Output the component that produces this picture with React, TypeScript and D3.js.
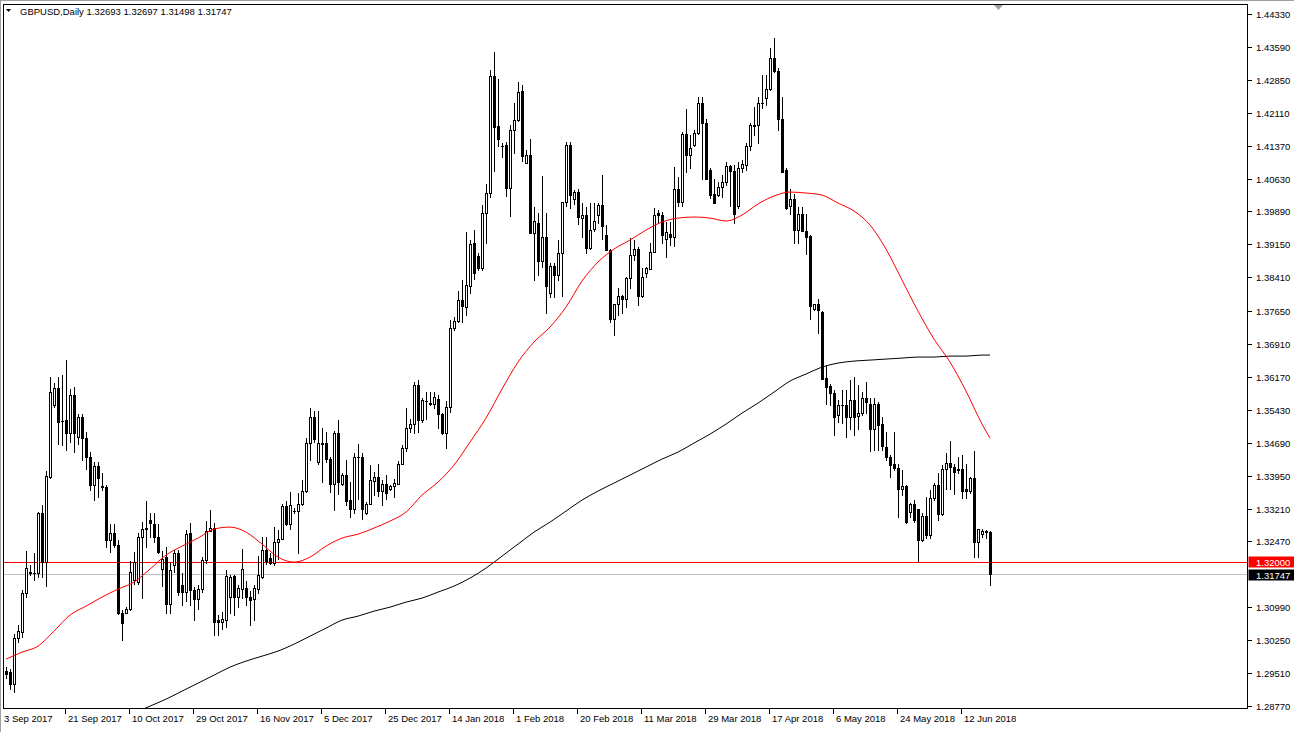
import React from "react";
import * as d3 from "d3";

// ---- Data (GBPUSD daily) ----
const openP = [
  1.2955, 1.2954, 1.2927, 1.3031, 1.3044, 1.3130, 1.3177, 1.3177, 1.3176, 1.3312,
  1.3200, 1.3392, 1.3553, 1.3593, 1.3518, 1.3520, 1.3490, 1.3576, 1.3482, 1.3526,
  1.3480, 1.3437, 1.3374, 1.3416, 1.3371, 1.3370, 1.3251, 1.3265, 1.3240, 1.3087,
  1.3087, 1.3096, 1.3160, 1.3156, 1.3257, 1.3274, 1.3296, 1.3286, 1.3256, 1.3186,
  1.3211, 1.3107, 1.3195, 1.3220, 1.3150, 1.3134, 1.3265, 1.3137, 1.3118, 1.3139,
  1.3205, 1.3270, 1.3278, 1.3070, 1.3066, 1.3070, 1.3122, 1.3169, 1.3122, 1.3141,
  1.3143, 1.3121, 1.3117, 1.3141, 1.3167, 1.3228, 1.3209, 1.3198, 1.3246, 1.3253,
  1.3326, 1.3287, 1.3316, 1.3316, 1.3332, 1.3361, 1.3468, 1.3526, 1.3426, 1.3465,
  1.3469, 1.3432, 1.3377, 1.3490, 1.3377, 1.3397, 1.3340, 1.3321, 1.3436, 1.3436,
  1.3310, 1.3332, 1.3383, 1.3391, 1.3361, 1.3377, 1.3366, 1.3371, 1.3376, 1.3422,
  1.3458, 1.3501, 1.3512, 1.3598, 1.3520, 1.3563, 1.3558, 1.3557, 1.3568, 1.3533,
  1.3490, 1.3550, 1.3728, 1.3742, 1.3791, 1.3775, 1.3821, 1.3918, 1.3889, 1.3862,
  1.3985, 1.4030, 1.4294, 1.4181, 1.4137, 1.4138, 1.4041, 1.4172, 1.4195, 1.4260,
  1.4097, 1.4117, 1.3941, 1.3964, 1.3878, 1.3932, 1.3806, 1.3866, 1.3847, 1.3895,
  1.4011, 1.4138, 1.4016, 1.4032, 1.3975, 1.3982, 1.3906, 1.3949, 1.3982, 1.4003,
  1.3937, 1.3902, 1.3748, 1.3781, 1.3799, 1.3793, 1.3840, 1.3892, 1.3904, 1.3799,
  1.3850, 1.3859, 1.3898, 1.3986, 1.3982, 1.3928, 1.3938, 1.3931, 1.4039, 1.4011,
  1.4163, 1.4117, 1.4138, 1.4165, 1.4234, 1.4189, 1.4082, 1.4029, 1.4026, 1.4043,
  1.4056, 1.4091, 1.4080, 1.4002, 1.4086, 1.4093, 1.4136, 1.4181, 1.4183, 1.4234,
  1.4243, 1.4264, 1.4335, 1.4305, 1.4197, 1.4082, 1.4002, 1.4018, 1.3948, 1.3983,
  1.3945, 1.3933, 1.3769, 1.3780, 1.3762, 1.3615, 1.3596, 1.3580, 1.3531, 1.3554,
  1.3554, 1.3526, 1.3565, 1.3529, 1.3536, 1.3569, 1.3557, 1.3500, 1.3557, 1.3511,
  1.3460, 1.3437, 1.3421, 1.3413, 1.3366, 1.3371, 1.3314, 1.3332, 1.3319, 1.3251,
  1.3304, 1.3261, 1.3344, 1.3374, 1.3308, 1.3409, 1.3424, 1.3415, 1.3410, 1.3410,
  1.3364, 1.3361, 1.3389, 1.3246, 1.3263, 1.3270, 1.32693,
];
const highP = [
  1.2965, 1.2961, 1.3040, 1.3059, 1.3137, 1.3225, 1.3194, 1.3221, 1.3314, 1.3329,
  1.3405, 1.3617, 1.3604, 1.3617, 1.3621, 1.3656, 1.3589, 1.3595, 1.3533, 1.3533,
  1.3494, 1.3449, 1.3426, 1.3426, 1.3400, 1.3374, 1.3287, 1.3287, 1.3250, 1.3092,
  1.3099, 1.3203, 1.3224, 1.3266, 1.3291, 1.3338, 1.3310, 1.3310, 1.3287, 1.3225,
  1.3235, 1.3198, 1.3228, 1.3228, 1.3175, 1.3273, 1.3288, 1.3145, 1.3148, 1.3213,
  1.3292, 1.3318, 1.3288, 1.3081, 1.3088, 1.3183, 1.3171, 1.3171, 1.3150, 1.3230,
  1.3158, 1.3136, 1.3150, 1.3215, 1.3258, 1.3258, 1.3220, 1.3280, 1.3273, 1.3332,
  1.3338, 1.3359, 1.3323, 1.3355, 1.3385, 1.3479, 1.3548, 1.3540, 1.3540, 1.3501,
  1.3494, 1.3437, 1.3496, 1.3520, 1.3402, 1.3431, 1.3381, 1.3447, 1.3466, 1.3445,
  1.3336, 1.3418, 1.3403, 1.3421, 1.3386, 1.3396, 1.3373, 1.3388, 1.3429, 1.3464,
  1.3546, 1.3523, 1.3606, 1.3611, 1.3569, 1.3583, 1.3583, 1.3583, 1.3576, 1.3536,
  1.3563, 1.3745, 1.3752, 1.3811, 1.3836, 1.3942, 1.3925, 1.3947, 1.3895, 1.4003,
  1.4051, 1.4307, 1.4348, 1.4286, 1.4144, 1.4146, 1.4183, 1.4234, 1.4279, 1.4273,
  1.4127, 1.4151, 1.3998, 1.3986, 1.4068, 1.3986, 1.3874, 1.3874, 1.3925, 1.4011,
  1.4146, 1.4146, 1.4037, 1.4039, 1.4009, 1.4000, 1.4009, 1.4007, 1.4009, 1.4071,
  1.3958, 1.3905, 1.3782, 1.3816, 1.3801, 1.3842, 1.3930, 1.3925, 1.3910, 1.3861,
  1.3865, 1.3917, 1.3996, 1.3992, 1.3988, 1.3966, 1.3966, 1.4090, 1.4067, 1.4168,
  1.4219, 1.4161, 1.4172, 1.4247, 1.4247, 1.4198, 1.4086, 1.4062, 1.4056, 1.4071,
  1.4101, 1.4093, 1.4093, 1.4101, 1.4105, 1.4142, 1.4187, 1.4224, 1.4247, 1.4296,
  1.4296, 1.4356, 1.4378, 1.4311, 1.4247, 1.4086, 1.4039, 1.4029, 1.3999, 1.3999,
  1.3984, 1.3936, 1.3782, 1.3793, 1.3765, 1.3643, 1.3602, 1.3587, 1.3565, 1.3587,
  1.3587, 1.3610, 1.3617, 1.3599, 1.3584, 1.3606, 1.3569, 1.3569, 1.3561, 1.3527,
  1.3494, 1.3441, 1.3494, 1.3422, 1.3407, 1.3374, 1.3334, 1.3340, 1.3321, 1.3310,
  1.3347, 1.3362, 1.3379, 1.3400, 1.3419, 1.3445, 1.3473, 1.3422, 1.3437, 1.3441,
  1.3422, 1.3392, 1.3450, 1.3276, 1.3274, 1.3272, 1.32697,
];
const lowP = [
  1.2939, 1.2916, 1.2909, 1.3021, 1.3033, 1.3122, 1.3171, 1.3160, 1.3167, 1.3167,
  1.3147, 1.3389, 1.3550, 1.3467, 1.3464, 1.3452, 1.3471, 1.3449, 1.3467, 1.3431,
  1.3411, 1.3362, 1.3341, 1.3347, 1.3362, 1.3235, 1.3224, 1.3235, 1.3083, 1.3026,
  1.3085, 1.3092, 1.3152, 1.3152, 1.3119, 1.3235, 1.3257, 1.3246, 1.3220, 1.3147,
  1.3085, 1.3085, 1.3178, 1.3126, 1.3103, 1.3112, 1.3103, 1.3070, 1.3096, 1.3133,
  1.3198, 1.3270, 1.3037, 1.3037, 1.3051, 1.3055, 1.3085, 1.3081, 1.3100, 1.3119,
  1.3105, 1.3060, 1.3070, 1.3130, 1.3164, 1.3196, 1.3196, 1.3194, 1.3207, 1.3253,
  1.3284, 1.3276, 1.3311, 1.3220, 1.3329, 1.3359, 1.3430, 1.3471, 1.3422, 1.3381,
  1.3426, 1.3359, 1.3317, 1.3353, 1.3373, 1.3328, 1.3302, 1.3310, 1.3343, 1.3298,
  1.3308, 1.3331, 1.3351, 1.3349, 1.3330, 1.3343, 1.3362, 1.3347, 1.3376, 1.3422,
  1.3451, 1.3493, 1.3491, 1.3493, 1.3516, 1.3523, 1.3553, 1.3546, 1.3503, 1.3488,
  1.3458, 1.3537, 1.3722, 1.3741, 1.3741, 1.3756, 1.3805, 1.3838, 1.3857, 1.3857,
  1.3917, 1.4021, 1.4081, 1.4136, 1.4112, 1.4024, 1.3979, 1.4121, 1.4193, 1.4103,
  1.4097, 1.3940, 1.3836, 1.3846, 1.3865, 1.3761, 1.3796, 1.3796, 1.3836, 1.3799,
  1.4001, 1.3996, 1.4006, 1.3961, 1.3931, 1.3895, 1.3904, 1.3945, 1.3962, 1.3928,
  1.3902, 1.3741, 1.3712, 1.3756, 1.3760, 1.3775, 1.3816, 1.3880, 1.3778, 1.3797,
  1.3842, 1.3859, 1.3898, 1.3966, 1.3917, 1.3887, 1.3913, 1.3912, 1.4002, 1.4002,
  1.4077, 1.4087, 1.4137, 1.4163, 1.4062, 1.4062, 1.4020, 1.4007, 1.4024, 1.4022,
  1.4048, 1.4002, 1.3964, 1.3996, 1.4077, 1.4082, 1.4127, 1.4161, 1.4144, 1.4222,
  1.4228, 1.4262, 1.4303, 1.4172, 1.4078, 1.3994, 1.3984, 1.3917, 1.3917, 1.3945,
  1.3894, 1.3747, 1.3767, 1.3715, 1.3613, 1.3555, 1.3554, 1.3486, 1.3516, 1.3514,
  1.3482, 1.3499, 1.3486, 1.3499, 1.3531, 1.3536, 1.3451, 1.3452, 1.3452, 1.3452,
  1.3430, 1.3391, 1.3407, 1.3302, 1.3351, 1.3289, 1.3302, 1.3291, 1.3203, 1.3248,
  1.3254, 1.3254, 1.3341, 1.3295, 1.3306, 1.3366, 1.3366, 1.3353, 1.3400, 1.3344,
  1.3344, 1.3355, 1.3211, 1.3211, 1.3257, 1.3255, 1.31498,
];
const closeP = [
  1.2950, 1.2927, 1.3031, 1.3046, 1.3132, 1.3188, 1.3178, 1.3176, 1.3310, 1.3200,
  1.3395, 1.3582, 1.3593, 1.3516, 1.3517, 1.3490, 1.3576, 1.3490, 1.3526, 1.3480,
  1.3437, 1.3374, 1.3416, 1.3390, 1.3370, 1.3250, 1.3265, 1.3240, 1.3085, 1.3064,
  1.3096, 1.3179, 1.3201, 1.3256, 1.3274, 1.3278, 1.3289, 1.3256, 1.3224, 1.3208,
  1.3107, 1.3182, 1.3220, 1.3134, 1.3134, 1.3263, 1.3137, 1.3118, 1.3141, 1.3205,
  1.3270, 1.3278, 1.3066, 1.3066, 1.3072, 1.3169, 1.3167, 1.3122, 1.3143, 1.3186,
  1.3121, 1.3115, 1.3143, 1.3171, 1.3228, 1.3203, 1.3198, 1.3246, 1.3253, 1.3326,
  1.3287, 1.3330, 1.3316, 1.3332, 1.3361, 1.3468, 1.3526, 1.3477, 1.3469, 1.3469,
  1.3432, 1.3377, 1.3490, 1.3381, 1.3397, 1.3338, 1.3321, 1.3437, 1.3436, 1.3319,
  1.3332, 1.3385, 1.3391, 1.3361, 1.3377, 1.3357, 1.3371, 1.3379, 1.3422, 1.3458,
  1.3501, 1.3512, 1.3598, 1.3520, 1.3565, 1.3563, 1.3557, 1.3571, 1.3533, 1.3490,
  1.3550, 1.3728, 1.3742, 1.3790, 1.3776, 1.3823, 1.3915, 1.3851, 1.3862, 1.3985,
  1.4030, 1.4294, 1.4180, 1.4153, 1.4137, 1.4041, 1.4172, 1.4195, 1.4258, 1.4114,
  1.4117, 1.3941, 1.3967, 1.3878, 1.3932, 1.3822, 1.3866, 1.3847, 1.3895, 1.4011,
  1.4138, 1.4027, 1.4032, 1.3977, 1.3982, 1.3906, 1.3947, 1.3967, 1.4003, 1.3956,
  1.3902, 1.3748, 1.3782, 1.3799, 1.3793, 1.3840, 1.3892, 1.3904, 1.3799, 1.3842,
  1.3861, 1.3898, 1.3982, 1.3982, 1.3935, 1.3943, 1.3931, 1.4039, 1.4011, 1.4163,
  1.4117, 1.4131, 1.4165, 1.4234, 1.4189, 1.4063, 1.4027, 1.4008, 1.4043, 1.4056,
  1.4091, 1.4080, 1.3983, 1.4087, 1.4096, 1.4136, 1.4183, 1.4184, 1.4234, 1.4234,
  1.4264, 1.4335, 1.4305, 1.4197, 1.4078, 1.3997, 1.4018, 1.3948, 1.3983, 1.3945,
  1.3932, 1.3777, 1.3780, 1.3767, 1.3613, 1.3595, 1.3580, 1.3526, 1.3554, 1.3553,
  1.3526, 1.3565, 1.3527, 1.3536, 1.3569, 1.3561, 1.3500, 1.3557, 1.3509, 1.3461,
  1.3436, 1.3420, 1.3413, 1.3366, 1.3371, 1.3291, 1.3332, 1.3295, 1.3251, 1.3304,
  1.3261, 1.3344, 1.3374, 1.3308, 1.3409, 1.3424, 1.3415, 1.3404, 1.3407, 1.3361,
  1.3361, 1.3389, 1.3246, 1.3274, 1.3270, 1.3268, 1.31747,
];

// Red moving average, one value every 4 bars (bars 0..244) plus the last bar (246)
const redMA = [
  1.29824, 1.29981, 1.30116, 1.30454, 1.30814, 1.31016, 1.31218, 1.31398, 1.31556, 1.31848,
  1.32163, 1.32365, 1.32545, 1.32748, 1.32793, 1.3268, 1.3241, 1.32118, 1.32005, 1.32118,
  1.32365, 1.32545, 1.32635, 1.3277, 1.32928, 1.3313, 1.33512, 1.33805, 1.34187, 1.34704,
  1.35244, 1.35896, 1.36503, 1.36953, 1.37291, 1.3774, 1.38325, 1.38752, 1.39045, 1.39247,
  1.39472, 1.39652, 1.39742, 1.39765, 1.39742, 1.39675, 1.3981, 1.40057, 1.40237, 1.40327,
  1.40304, 1.40259, 1.40079, 1.399, 1.39585, 1.39045, 1.38348, 1.3765, 1.37021, 1.36503,
  1.35851, 1.35109, 1.34794,
];
// Black moving average, one value every 4 bars from bar 32 to 244, plus the last bar (246)
const blackMA = [
  1.2861, 1.28767, 1.28924, 1.29104, 1.29284, 1.29464, 1.29644, 1.29779, 1.29891, 1.30004,
  1.30161, 1.30341, 1.30521, 1.30701, 1.30791, 1.30903, 1.30993, 1.31106, 1.31196, 1.31331,
  1.31466, 1.31646, 1.31871, 1.3214, 1.3241, 1.3268, 1.32905, 1.33152, 1.334, 1.33602,
  1.33782, 1.33962, 1.34142, 1.34322, 1.34479, 1.34682, 1.34884, 1.35109, 1.35356, 1.35581,
  1.35829, 1.36076, 1.36234, 1.36391, 1.36481, 1.36526, 1.36548, 1.36571, 1.36593, 1.36616,
  1.36616, 1.36638, 1.36638, 1.36661, 1.36661,
];

const dateLabels = [
  "3 Sep 2017", "21 Sep 2017", "10 Oct 2017", "29 Oct 2017", "16 Nov 2017", "5 Dec 2017",
  "25 Dec 2017", "14 Jan 2018", "1 Feb 2018", "20 Feb 2018", "11 Mar 2018", "29 Mar 2018",
  "17 Apr 2018", "6 May 2018", "24 May 2018", "12 Jun 2018",
];
const dateLabelStep = 16;
const priceTicks = [
  1.4433, 1.4359, 1.4285, 1.4211, 1.4137, 1.4063, 1.3989, 1.3915, 1.3841, 1.3765,
  1.3691, 1.3617, 1.3543, 1.3469, 1.3395, 1.3321, 1.3247, 1.3099, 1.3025, 1.2951, 1.2877,
];
const symbolTitle = "GBPUSD,Daily";
const levelLine = 1.32;
const lastPrice = 1.31747;

const FONT = "'Liberation Sans', Arial, sans-serif";

export default function App() {
  const W = 1294;
  const H = 732;
  const N = closeP.length;
  const frameL = 3.5, frameT = 4.5, frameR = 1247.5, frameB = 708.5;

  const x = d3.scaleLinear().domain([0, N - 1]).range([6, 990]);
  const y = d3.scaleLinear().domain([1.2877, 1.4433]).range([706, 14]);

  const redIdx = d3.range(0, 245, 4).concat([N - 1]);
  const blackIdx = d3.range(32, 245, 4).concat([N - 1]);

  const lineGen = d3
    .line<[number, number]>()
    .x((d) => x(d[0]))
    .y((d) => y(d[1]))
    .curve(d3.curveMonotoneX);

  const redPath = lineGen(redIdx.map((i, k) => [i, redMA[k]] as [number, number])) || "";
  const blackPath = lineGen(blackIdx.map((i, k) => [i, blackMA[k]] as [number, number])) || "";

  const candles = d3.range(N).map((i) => {
    const cx = Math.round(x(i));
    const o = openP[i], c = closeP[i], h = highP[i], l = lowP[i];
    const yo = Math.round(y(o));
    const yc = Math.round(y(c));
    const yh = Math.round(y(h));
    const yl = Math.round(y(l));
    const top = Math.min(yo, yc);
    const bot = Math.max(yo, yc);
    const bull = c >= o;
    return (
      <g key={i}>
        <line x1={cx + 0.5} x2={cx + 0.5} y1={yh} y2={yl + 1} stroke="#000" strokeWidth={1} />
        {bot - top >= 1 ? (
          <rect
            x={cx - 0.5}
            y={top + 0.5}
            width={2}
            height={bot - top}
            fill={bull ? "#fff" : "#000"}
            stroke="#000"
            strokeWidth={1}
          />
        ) : (
          <line x1={cx - 1} x2={cx + 2} y1={top + 0.5} y2={top + 0.5} stroke="#000" strokeWidth={1} />
        )}
      </g>
    );
  });

  const yLevel = Math.round(y(levelLine)) + 0.5;
  const yLast = Math.round(y(lastPrice)) + 0.5;

  return (
    <svg
      width={W}
      height={H}
      viewBox={`0 0 ${W} ${H}`}
      style={{ position: "absolute", left: 0, top: 0, background: "#fff" }}
      fontFamily={FONT}
    >
      <defs>
        <clipPath id="plotClip">
          <rect x={frameL + 0.5} y={frameT + 0.5} width={frameR - frameL - 1} height={frameB - frameT - 1} />
        </clipPath>
      </defs>
      <rect x={0} y={0} width={W} height={H} fill="#fff" />
      {/* window edges */}
      <line x1={0} x2={W} y1={0.5} y2={0.5} stroke="#a0a0a0" />
      <line x1={0.5} x2={0.5} y1={0} y2={H} stroke="#a0a0a0" />

      <g clipPath="url(#plotClip)" shapeRendering="crispEdges">
        {/* price level lines */}
        <line x1={frameL} x2={frameR} y1={yLast} y2={yLast} stroke="#c0c0c0" strokeWidth={1} />
        <line x1={frameL} x2={frameR} y1={yLevel} y2={yLevel} stroke="#ff0000" strokeWidth={1} />
        {candles}
      </g>
      <g clipPath="url(#plotClip)">
        <path d={blackPath} fill="none" stroke="#000" strokeWidth={1} />
        <path d={redPath} fill="none" stroke="#ff0000" strokeWidth={1} />
      </g>

      {/* frame */}
      <rect
        x={frameL}
        y={frameT}
        width={frameR - frameL}
        height={frameB - frameT}
        fill="none"
        stroke="#000"
        strokeWidth={1}
        shapeRendering="crispEdges"
      />

      {/* right price axis */}
      <g fontSize={9.5} fill="#000">
        {priceTicks.map((v) => {
          const yy = Math.round(y(v)) + 0.5;
          return (
            <g key={v}>
              <line x1={frameR} x2={frameR + 4} y1={yy} y2={yy} stroke="#000" shapeRendering="crispEdges" />
              <text x={1256} y={yy + 3.5}>
                {v.toFixed(5)}
              </text>
            </g>
          );
        })}
      </g>
      {/* level label boxes */}
      <rect x={frameR + 1} y={yLevel - 6} width={W - frameR} height={11} fill="#ff0000" />
      <text x={1256} y={yLevel + 3.5} fontSize={9.5} fill="#fff">
        {levelLine.toFixed(5)}
      </text>
      <rect x={frameR + 1} y={yLast - 5} width={W - frameR} height={11} fill="#000" />
      <text x={1256} y={yLast + 4} fontSize={9.5} fill="#fff">
        {lastPrice.toFixed(5)}
      </text>

      {/* date axis */}
      <g fontSize={9.5} fill="#000">
        {dateLabels.map((lab, k) => {
          const bx = Math.round(x(k * dateLabelStep));
          return (
            <g key={lab}>
              {k > 0 && (
                <line
                  x1={bx - 4.5}
                  x2={bx - 4.5}
                  y1={frameB}
                  y2={frameB + 5}
                  stroke="#000"
                  shapeRendering="crispEdges"
                />
              )}
              <text x={k === 0 ? 4 : bx - 2} y={722}>
                {lab}
              </text>
            </g>
          );
        })}
      </g>

      {/* legend */}
      <path d="M6,9 L11,9 L8.5,12 Z" fill="#000" />
      <text x={20} y={15} fontSize={9.5} fill="#000">
        {`${symbolTitle}  ${openP[N - 1].toFixed(5)} ${highP[N - 1].toFixed(5)} ${lowP[N - 1].toFixed(5)} ${closeP[N - 1].toFixed(5)}`}
      </text>
      {/* chart shift marker */}
      <path d="M994,5 L1003,5 L998.5,10 Z" fill="#a0a0a0" />
    </svg>
  );
}
